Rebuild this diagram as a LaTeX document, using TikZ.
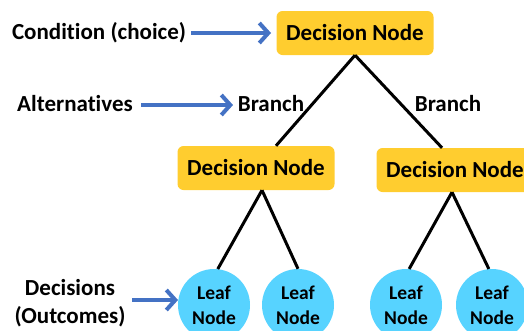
\documentclass[tikz,border=0pt]{standalone}
\usepackage{fontspec}
\setmainfont{Carlito}[Ligatures=NoCommon]
\usetikzlibrary{arrows.meta}
\definecolor{dnfill}{HTML}{FFCD2F}
\definecolor{leaffill}{HTML}{57D3FF}
\definecolor{arrblue}{HTML}{4472C4}
\tikzset{
  decbox/.style={fill=dnfill, rounded corners=6pt, minimum width=157pt, minimum height=44pt, inner sep=0pt, font=\fontsize{23}{26}\selectfont\bfseries},
  leafnode/.style={circle, fill=leaffill, minimum size=72pt, inner sep=0pt, align=center, font=\fontsize{19.5}{25}\selectfont\bfseries},
  lbl/.style={inner sep=0pt, font=\fontsize{23}{28}\selectfont\bfseries, align=center},
  edge/.style={line width=3pt, black},
  pointer/.style={line width=4pt, arrblue, -{Straight Barb[length=9pt,width=20pt]}},
}
\begin{document}
\begin{tikzpicture}[x=1pt,y=-1pt]
\useasboundingbox (0,0) rectangle (524,330);
\node[decbox] (top) at (355,33) {Decision Node};
\node[decbox] (dl) at (256,168) {Decision Node};
\node[decbox] (dr) at (455,170) {Decision Node};
\node[leafnode] (l1) at (214,305) {Leaf\\Node};
\node[leafnode] (l2) at (298,305) {Leaf\\Node};
\node[leafnode] (l3) at (406,305) {Leaf\\Node};
\node[leafnode] (l4) at (492,305) {Leaf\\Node};
\node[lbl] (cond) at (99,33) {Condition (choice)};
\node[lbl] (alt) at (75,104) {Alternatives};
\node[lbl] (bl) at (271,104) {Branch};
\node[lbl] (br) at (448,104) {Branch};
\node[lbl] (dec) at (70,303) {Decisions\\(Outcomes)};
\coordinate (a1s) at (191,33);
\coordinate (a1e) at (271,33);
\coordinate (a2s) at (141,105);
\coordinate (a2e) at (233,105);
\coordinate (a3s) at (132,300);
\coordinate (a3e) at (178,300);
\draw[pointer] (a1s) -- (a1e);
\draw[pointer] (a2s) -- (a2e);
\draw[pointer] (a3s) -- (a3e);
\draw[edge] (top.south) -- ([xshift=20pt]dl.north);
\draw[edge] (top.south) -- ([xshift=-13pt]dr.north);
\draw[edge] ([xshift=6pt]dl.south) -- (l1.84);
\draw[edge] ([xshift=6pt]dl.south) -- (l2.north);
\draw[edge] ([xshift=-3pt]dr.south) -- (l3.85);
\draw[edge] ([xshift=-3pt]dr.south) -- (l4.95);
\end{tikzpicture}
\end{document}
